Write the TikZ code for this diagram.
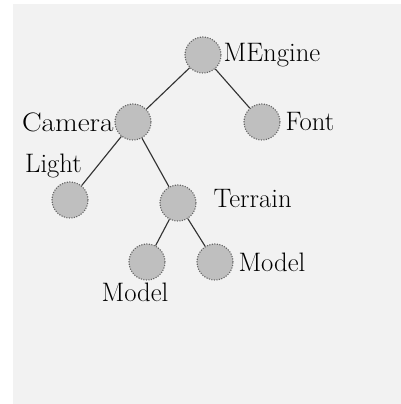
\documentclass[tikz,border=0pt]{standalone}
\usepackage{tikz}
\usetikzlibrary{positioning}

\begin{document}
\begin{tikzpicture}[>=latex, font=\fontsize{19}{21}\selectfont]
\tikzstyle{obj} = [draw=gray!80!black, densely dotted, thick, circle, fill=gray!50, minimum size=0.9cm, inner sep=0pt]
\tikzstyle{link} = [draw=black!80, thick]

% background
\fill[white] (0,0) rectangle (10.025,10.1);
\fill[black!5] (0.33,0) rectangle (10.025,10.0);
\useasboundingbox (0,0) rectangle (10.025,10.1);

    \node [obj, label={[label distance=-2pt]right:MEngine}] (engine) at (5.075,8.725) {};
    \node [obj, label={[label distance=-3pt, xscale=1.1]left:Camera}] (camera) at (3.325,7.05) {};
    \node [obj, label={right:Font}] (font) at (6.55,7.05) {};
    \node [obj, label={[xshift=0.75cm, yshift=0.1cm]above left:Light}] (light) at (1.75,5.1) {};
    \node [obj, label={[label distance=0.3cm, yshift=0.1cm]right:Terrain}] (terrain) at (4.45,5.025) {};
    \node [obj, label={[xshift=-0.3cm, label distance=-2pt]below:Model}] (meshA) at (3.675,3.55) {};
    \node [obj, label={right:Model}] (meshB) at (5.375,3.55) {};

    % tree edges
    \draw [link] (engine) -- (camera);
    \draw [link] (engine) -- (font);
    \draw [link] (camera) -- (light);
    \draw [link] (camera) -- (terrain);
    \draw [link] (terrain) -- (meshA);
    \draw [link] (terrain) -- (meshB);

\end{tikzpicture}
\end{document}
